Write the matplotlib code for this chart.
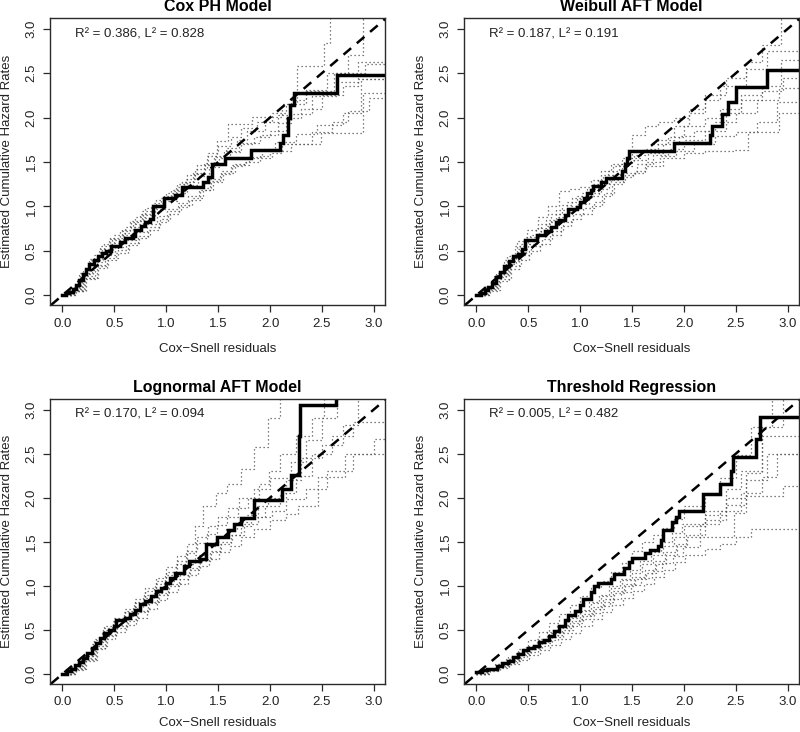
import matplotlib
matplotlib.use("Agg")
import matplotlib.pyplot as plt

plt.rcParams['font.family'] = ['Liberation Sans', 'DejaVu Sans']

TITLES = ["Cox PH Model", "Weibull AFT Model", "Lognormal AFT Model", "Threshold Regression"]
R2 = ["0.386", "0.187", "0.170", "0.005"]
L2 = ["0.828", "0.191", "0.094", "0.482"]
TICKS = [0.0, 0.5, 1.0, 1.5, 2.0, 2.5, 3.0]
TICK_LABELS = ["0.0", "0.5", "1.0", "1.5", "2.0", "2.5", "3.0"]
XLABEL = "Cox\u2212Snell residuals"
YLABEL = "Estimated Cumulative Hazard Rates"

# ---- main (observed) step curves ----
COX_X = [0.00,0.03,0.06,0.10,0.13,0.16,0.20,0.23,0.26,0.30,0.34,0.38,0.42,0.47,0.55,0.60,0.68,0.70,0.76,0.80,0.84,0.87,0.98,1.08,1.15,1.35,1.40,1.44,1.57,1.82,2.10,2.13,2.17,2.19,2.23,2.65]
COX_Y = [0.00,0.02,0.04,0.07,0.12,0.17,0.24,0.30,0.35,0.40,0.44,0.47,0.50,0.55,0.60,0.64,0.67,0.74,0.78,0.82,0.86,1.00,1.09,1.13,1.22,1.28,1.33,1.48,1.55,1.63,1.71,1.80,2.00,2.14,2.28,2.48]

WEI_X = [0.00,0.04,0.08,0.11,0.15,0.19,0.23,0.27,0.31,0.35,0.40,0.44,0.47,0.58,0.66,0.72,0.77,0.80,0.85,0.88,0.97,1.00,1.04,1.07,1.10,1.12,1.20,1.25,1.40,1.43,1.45,1.47,1.90,2.25,2.27,2.37,2.42,2.50,2.80]
WEI_Y = [0.00,0.03,0.06,0.09,0.14,0.20,0.26,0.33,0.38,0.44,0.46,0.52,0.62,0.68,0.72,0.77,0.82,0.85,0.90,0.97,0.99,1.05,1.10,1.15,1.18,1.23,1.27,1.32,1.40,1.48,1.55,1.62,1.71,1.80,1.91,2.04,2.18,2.34,2.54]

LOG_X = [0.00,0.04,0.08,0.12,0.16,0.20,0.24,0.28,0.32,0.36,0.40,0.45,0.50,0.52,0.60,0.65,0.70,0.75,0.80,0.85,0.90,0.95,1.00,1.04,1.08,1.17,1.22,1.33,1.38,1.49,1.60,1.65,1.72,1.85,2.12,2.20,2.28,2.29,2.64]
LOG_Y = [0.00,0.03,0.06,0.10,0.14,0.18,0.24,0.30,0.35,0.41,0.47,0.50,0.55,0.61,0.64,0.68,0.73,0.79,0.83,0.88,0.94,0.98,1.03,1.09,1.15,1.22,1.28,1.31,1.48,1.55,1.63,1.70,1.77,1.97,2.10,2.26,2.70,3.05,3.30]

THR_X = [0.00,0.05,0.10,0.20,0.25,0.30,0.35,0.40,0.45,0.50,0.55,0.60,0.65,0.70,0.75,0.80,0.85,0.88,0.95,1.00,1.03,1.10,1.13,1.17,1.30,1.33,1.42,1.47,1.50,1.62,1.67,1.75,1.78,1.80,1.88,1.92,1.95,2.18,2.35,2.45,2.47,2.69,2.73]
THR_Y = [0.02,0.04,0.06,0.09,0.12,0.15,0.19,0.23,0.27,0.30,0.32,0.36,0.39,0.43,0.49,0.55,0.61,0.67,0.72,0.78,0.85,0.93,1.00,1.03,1.08,1.13,1.20,1.27,1.32,1.37,1.41,1.45,1.52,1.63,1.72,1.78,1.85,2.04,2.15,2.30,2.46,2.66,2.91]

# ---- simulated (dotted) step curves ----
COX_SIM_X = [
    [0,0.08,0.17,0.27,0.36,0.46,0.57,0.66,0.77,0.88,0.98,1.09,1.19,1.28,1.39,1.49,1.60,1.83,2.12,2.26,2.52,2.58],
    [0,0.12,0.22,0.33,0.43,0.52,0.63,0.73,0.82,0.93,1.02,1.12,1.22,1.33,1.42,1.53,1.63,1.80,2.02,2.12,2.49,2.90],
    [0,0.10,0.19,0.29,0.39,0.49,0.59,0.69,0.79,0.89,0.99,1.10,1.20,1.31,1.41,1.51,1.61,1.72,1.90,2.08,2.20,2.40,2.65,2.85],
    [0,0.09,0.18,0.28,0.38,0.48,0.58,0.68,0.78,0.87,0.97,1.07,1.17,1.27,1.37,1.47,1.58,1.68,1.78,1.95,2.08,2.20,2.35,2.55,2.75,2.90],
    [0,0.11,0.21,0.31,0.41,0.51,0.61,0.71,0.81,0.91,1.01,1.11,1.21,1.32,1.43,1.52,1.62,1.75,1.90,2.00,2.20,2.40,2.60,2.75,2.95],
    [0,0.07,0.16,0.26,0.35,0.45,0.55,0.65,0.75,0.85,0.95,1.05,1.15,1.26,1.36,1.46,1.56,1.70,1.85,2.00,2.15,2.30,2.50,2.70,2.85],
    [0,0.10,0.20,0.30,0.40,0.50,0.60,0.70,0.80,0.90,1.00,1.10,1.20,1.30,1.40,1.50,1.62,1.72,1.87,2.02,2.15,2.35,2.62,2.92],
    [0,0.13,0.23,0.34,0.44,0.54,0.64,0.74,0.84,0.94,1.04,1.14,1.25,1.35,1.45,1.55,1.66,1.77,1.92,2.05,2.25,2.45,2.70,2.88],
]
COX_SIM_Y = [
    [0,0.07,0.25,0.41,0.55,0.65,0.74,0.84,0.95,1.04,1.12,1.22,1.31,1.42,1.57,1.74,1.93,2.01,2.15,2.58,2.84,3.30],
    [0,0.05,0.18,0.31,0.40,0.48,0.57,0.65,0.73,0.83,0.92,0.99,1.07,1.19,1.31,1.40,1.47,1.55,1.60,1.70,1.83,2.28],
    [0,0.06,0.22,0.37,0.49,0.59,0.68,0.77,0.87,0.97,1.06,1.15,1.24,1.34,1.44,1.54,1.61,1.71,1.80,1.94,2.04,2.24,2.40,2.63],
    [0,0.07,0.24,0.40,0.52,0.62,0.70,0.80,0.90,1.00,1.08,1.17,1.27,1.37,1.47,1.57,1.66,1.75,1.85,1.95,2.03,2.20,2.31,2.50,2.70,3.30],
    [0,0.05,0.19,0.34,0.45,0.54,0.62,0.71,0.80,0.89,0.97,1.04,1.12,1.21,1.29,1.37,1.45,1.50,1.57,1.62,1.70,1.84,1.95,2.07,2.22],
    [0,0.06,0.23,0.40,0.52,0.63,0.72,0.82,0.92,1.02,1.10,1.18,1.28,1.38,1.49,1.56,1.62,1.70,1.78,1.85,2.00,2.10,2.25,2.36,2.43],
    [0,0.09,0.28,0.45,0.58,0.68,0.77,0.88,0.98,1.07,1.15,1.25,1.35,1.47,1.60,1.68,1.78,1.88,1.95,2.05,2.15,2.30,2.50,2.60],
    [0,0.05,0.19,0.33,0.42,0.51,0.59,0.67,0.77,0.86,0.95,1.02,1.10,1.18,1.28,1.38,1.48,1.56,1.65,1.73,1.82,1.92,2.05,2.43],
]

WEI_SIM_X = [
    [0,0.09,0.19,0.29,0.39,0.49,0.59,0.69,0.80,0.90,1.00,1.10,1.20,1.30,1.40,1.50,1.62,1.75,1.90,2.05,2.20,2.40,2.60,2.75,2.93],
    [0,0.11,0.21,0.31,0.41,0.51,0.61,0.71,0.81,0.91,1.01,1.11,1.21,1.31,1.41,1.51,1.62,1.80,2.00,2.20,2.48,2.62,2.92],
    [0,0.10,0.20,0.30,0.40,0.50,0.60,0.70,0.80,0.90,1.00,1.10,1.20,1.30,1.40,1.50,1.65,1.80,1.95,2.10,2.30,2.50,2.70,2.92],
    [0,0.08,0.18,0.28,0.38,0.48,0.58,0.68,0.78,0.88,0.98,1.08,1.18,1.28,1.38,1.55,1.70,1.85,2.00,2.20,2.40,2.55,2.75,2.93],
    [0,0.12,0.22,0.32,0.42,0.52,0.62,0.72,0.82,0.92,1.02,1.12,1.22,1.32,1.42,1.52,1.62,1.75,1.90,2.05,2.20,2.35,2.60,2.80],
    [0,0.13,0.23,0.33,0.43,0.53,0.63,0.73,0.83,0.93,1.03,1.13,1.23,1.33,1.43,1.53,1.63,1.77,1.92,2.10,2.30,2.50,2.70,2.90],
    [0,0.07,0.17,0.27,0.37,0.47,0.57,0.67,0.77,0.87,0.97,1.07,1.17,1.27,1.37,1.47,1.58,1.68,1.85,2.00,2.20,2.35,2.55,2.75,2.95],
]
WEI_SIM_Y = [
    [0,0.10,0.25,0.44,0.61,0.74,0.88,1.00,1.17,1.20,1.22,1.30,1.40,1.48,1.55,1.80,1.90,1.95,2.00,2.10,2.25,2.45,2.63,2.82,3.30],
    [0,0.05,0.16,0.30,0.40,0.50,0.58,0.68,0.78,0.86,0.92,1.00,1.12,1.25,1.33,1.38,1.45,1.55,1.60,1.62,1.64,1.84,2.05],
    [0,0.08,0.22,0.38,0.52,0.62,0.72,0.82,0.92,1.00,1.08,1.15,1.25,1.35,1.45,1.52,1.60,1.70,1.79,1.85,1.95,2.05,2.20,2.33],
    [0,0.07,0.20,0.35,0.48,0.58,0.68,0.78,0.88,0.97,1.03,1.12,1.20,1.30,1.38,1.48,1.58,1.65,1.75,1.85,2.05,2.25,2.35,2.65],
    [0,0.09,0.24,0.42,0.58,0.68,0.80,0.92,1.02,1.10,1.15,1.25,1.35,1.45,1.50,1.58,1.65,1.75,1.90,2.05,2.20,2.35,2.55,2.75],
    [0,0.06,0.18,0.33,0.45,0.55,0.63,0.72,0.82,0.92,0.98,1.05,1.15,1.28,1.35,1.40,1.50,1.57,1.62,1.70,1.79,1.84,1.95,2.18],
    [0,0.08,0.23,0.40,0.55,0.66,0.76,0.85,0.96,1.05,1.12,1.20,1.30,1.40,1.48,1.55,1.62,1.70,1.78,1.90,2.00,2.10,2.20,2.30,2.45],
]

LOG_SIM_X = [
    [0,0.10,0.20,0.30,0.40,0.50,0.60,0.70,0.80,0.90,1.00,1.10,1.20,1.28,1.35,1.48,1.59,1.72,1.85,1.98,2.10],
    [0,0.09,0.19,0.29,0.39,0.49,0.59,0.69,0.79,0.89,0.99,1.09,1.19,1.29,1.39,1.49,1.59,1.69,1.79,1.89,1.99,2.10,2.25,2.40,2.52],
    [0,0.11,0.21,0.31,0.41,0.51,0.61,0.71,0.81,0.91,1.01,1.11,1.21,1.31,1.41,1.51,1.61,1.72,1.85,2.00,2.15,2.27,2.46,2.72,3.00],
    [0,0.08,0.18,0.28,0.38,0.48,0.58,0.68,0.78,0.88,0.98,1.08,1.18,1.28,1.38,1.48,1.58,1.68,1.78,1.88,1.98,2.15,2.30,2.50,2.70,2.85],
    [0,0.12,0.22,0.32,0.42,0.52,0.62,0.72,0.82,0.92,1.02,1.12,1.22,1.32,1.42,1.52,1.62,1.72,1.82,1.95,2.10,2.25,2.40,2.60,2.80],
    [0,0.10,0.20,0.30,0.40,0.50,0.60,0.70,0.80,0.90,1.00,1.10,1.20,1.30,1.40,1.50,1.60,1.70,1.85,2.00,2.20,2.35,2.50,2.65],
    [0,0.13,0.23,0.33,0.43,0.53,0.63,0.73,0.83,0.93,1.03,1.13,1.23,1.33,1.43,1.53,1.63,1.75,1.88,2.02,2.15,2.35,2.55,2.80],
]
LOG_SIM_Y = [
    [0,0.09,0.22,0.40,0.54,0.64,0.74,0.85,0.97,1.09,1.21,1.34,1.48,1.68,1.91,2.05,2.15,2.32,2.57,2.90,3.30],
    [0,0.08,0.20,0.36,0.50,0.60,0.70,0.80,0.90,1.02,1.12,1.25,1.37,1.49,1.59,1.69,1.78,1.88,2.00,2.15,2.30,2.50,2.70,2.90,3.30],
    [0,0.05,0.15,0.28,0.40,0.48,0.56,0.64,0.74,0.84,0.93,1.02,1.12,1.22,1.30,1.38,1.45,1.55,1.65,1.75,1.82,1.91,2.23,2.49,2.66],
    [0,0.07,0.18,0.34,0.46,0.56,0.66,0.76,0.86,0.96,1.06,1.15,1.25,1.35,1.45,1.55,1.65,1.72,1.80,1.90,2.00,2.20,2.45,2.60,2.83,3.30],
    [0,0.06,0.17,0.30,0.43,0.52,0.60,0.70,0.80,0.90,1.00,1.08,1.18,1.28,1.38,1.48,1.58,1.68,1.78,1.90,2.05,2.25,2.50,2.70,2.86],
    [0,0.09,0.20,0.38,0.52,0.62,0.72,0.82,0.94,1.05,1.16,1.28,1.40,1.55,1.68,1.78,1.88,2.00,2.10,2.22,2.40,2.65,2.90,3.30],
    [0,0.06,0.16,0.32,0.44,0.54,0.62,0.72,0.82,0.92,1.02,1.12,1.20,1.30,1.40,1.50,1.58,1.70,1.78,1.85,1.98,2.10,2.30,2.50],
]

THR_SIM_X = [
    [0,0.10,0.20,0.30,0.40,0.50,0.60,0.70,0.80,0.90,1.00,1.10,1.20,1.30,1.40,1.50,1.60,1.70,1.80,1.90,2.00,2.20,2.35,2.50,2.65,2.85],
    [0,0.11,0.21,0.31,0.41,0.51,0.61,0.71,0.81,0.91,1.01,1.11,1.21,1.31,1.41,1.51,1.61,1.71,1.81,1.91,2.01,2.20,2.35,2.50,2.65],
    [0,0.09,0.19,0.29,0.39,0.49,0.59,0.69,0.79,0.89,0.99,1.09,1.19,1.29,1.39,1.49,1.59,1.69,1.79,1.89,1.99,2.15,2.48,2.60,2.95],
    [0,0.12,0.22,0.32,0.42,0.52,0.62,0.72,0.82,0.92,1.02,1.12,1.22,1.32,1.42,1.52,1.62,1.72,1.82,1.92,2.02,2.20,2.40,2.60,2.80],
    [0,0.08,0.18,0.28,0.38,0.48,0.58,0.68,0.78,0.88,0.98,1.08,1.18,1.28,1.38,1.48,1.58,1.68,1.78,1.88,1.98,2.20,2.40,2.55,2.75],
    [0,0.13,0.23,0.33,0.43,0.53,0.63,0.73,0.83,0.93,1.03,1.13,1.23,1.33,1.43,1.53,1.63,1.73,1.83,1.93,2.03,2.15,2.35,2.55,2.75,2.90],
    [0,0.10,0.20,0.30,0.40,0.50,0.60,0.70,0.80,0.90,1.00,1.10,1.20,1.30,1.40,1.50,1.60,1.70,1.80,1.90,2.00,2.20,2.40,2.60,2.75,2.95],
]
THR_SIM_Y = [
    [0,0.05,0.11,0.19,0.28,0.38,0.48,0.58,0.68,0.78,0.88,0.98,1.06,1.16,1.26,1.40,1.50,1.58,1.66,1.76,1.90,2.05,2.22,2.48,2.80,3.30],
    [0,0.03,0.07,0.11,0.16,0.21,0.27,0.33,0.40,0.47,0.55,0.62,0.70,0.78,0.86,0.94,1.02,1.10,1.18,1.27,1.35,1.42,1.47,1.55,1.64],
    [0,0.04,0.08,0.13,0.19,0.25,0.32,0.39,0.46,0.54,0.62,0.69,0.77,0.85,0.93,1.01,1.09,1.17,1.26,1.34,1.44,1.55,1.83,2.02,2.13],
    [0,0.05,0.10,0.16,0.23,0.30,0.37,0.44,0.52,0.60,0.68,0.76,0.85,0.94,1.02,1.10,1.18,1.28,1.38,1.48,1.58,1.75,1.92,2.20,2.50],
    [0,0.05,0.11,0.17,0.25,0.32,0.40,0.48,0.56,0.65,0.73,0.82,0.90,1.00,1.08,1.18,1.28,1.38,1.50,1.60,1.70,1.85,2.10,2.30,2.70],
    [0,0.04,0.09,0.15,0.21,0.28,0.35,0.42,0.50,0.58,0.66,0.74,0.82,0.92,1.00,1.08,1.15,1.25,1.35,1.45,1.55,1.70,1.85,2.05,2.23,2.50],
    [0,0.05,0.10,0.17,0.24,0.31,0.39,0.47,0.55,0.63,0.72,0.80,0.88,0.98,1.07,1.15,1.25,1.35,1.45,1.55,1.68,1.80,2.00,2.28,2.80,3.30],
]

PANELS = [
    (COX_X, COX_Y, COX_SIM_X, COX_SIM_Y),
    (WEI_X, WEI_Y, WEI_SIM_X, WEI_SIM_Y),
    (LOG_X, LOG_Y, LOG_SIM_X, LOG_SIM_Y),
    (THR_X, THR_Y, THR_SIM_X, THR_SIM_Y),
]

XLIM = (-0.12, 3.11)
YLIM = (-0.11, 3.12)
XEND = 3.4

fig = plt.figure(figsize=(8, 7.32), dpi=100)
rects = [
    [0.0625, 0.5833, 0.419, 0.392],
    [0.580, 0.5833, 0.419, 0.392],
    [0.0625, 0.0660, 0.419, 0.389],
    [0.580, 0.0660, 0.419, 0.389],
]
BOX = '#2a2a2a'
FS = 9.5

for i, (mx, my, sxs, sys_) in enumerate(PANELS):
    ax = fig.add_axes(rects[i])
    for sx, sy in zip(sxs, sys_):
        ax.step(sx + [XEND], sy + [sy[-1]], where='post', color='#555555',
                lw=0.9, ls=(0, (1, 2.2)))
    ax.axline((0, 0), slope=1, color='black', lw=1.8, dashes=(4, 3))
    ax.step(mx + [XEND], my + [my[-1]], where='post', color='black', lw=2.5,
            solid_joinstyle='miter')
    ax.set_xlim(*XLIM)
    ax.set_ylim(*YLIM)
    ax.set_xticks(TICKS)
    ax.set_xticklabels(TICK_LABELS)
    ax.set_yticks(TICKS)
    ax.set_yticklabels(TICK_LABELS, rotation=90, va='center')
    ax.tick_params(direction='out', length=5, width=0.9, color=BOX,
                   labelsize=FS, labelcolor='#222222', pad=4)
    for sp in ax.spines.values():
        sp.set_color(BOX)
        sp.set_linewidth(1.0)
    ax.set_xlabel(XLABEL, fontsize=FS, color='#222222',
                  labelpad=10 if i < 2 else 6)
    ax.set_ylabel(YLABEL, fontsize=FS, color='#222222', labelpad=9)
    ax.set_title(TITLES[i], fontsize=11.5, fontweight='bold', pad=5)
    ax.text(0.12, 2.94, "R\u00b2 = " + R2[i] + ", L\u00b2 = " + L2[i],
            fontsize=FS, va='center', ha='left', color='#222222')

fig.savefig("out.png", dpi=100)
